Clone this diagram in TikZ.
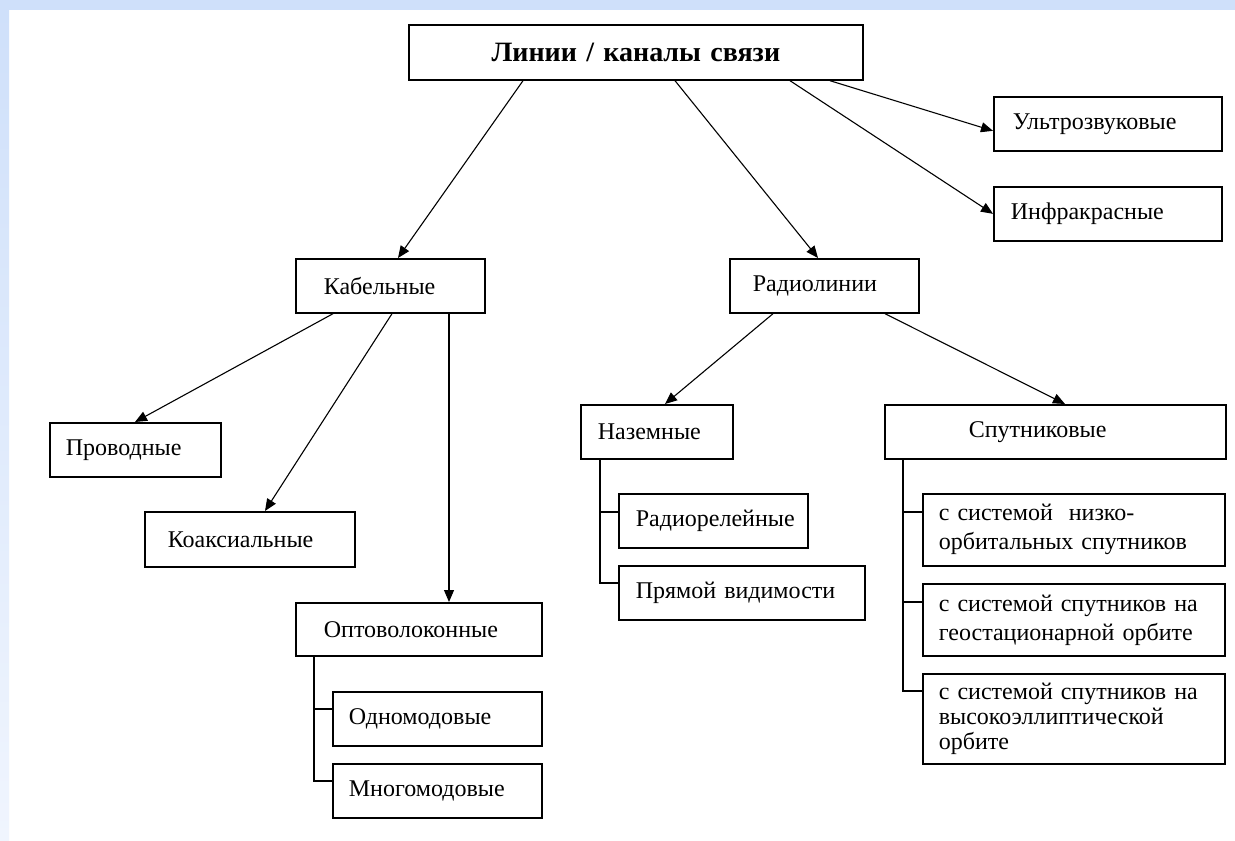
\documentclass[tikz,border=0pt]{standalone}
\usepackage{fontspec}
\setmainfont{Liberation Serif}
\usetikzlibrary{arrows.meta,calc}
\definecolor{bluebg}{RGB}{207,224,250}
\definecolor{bluebgb}{RGB}{240,245,254}
\begin{document}
\begin{tikzpicture}[x=0.5pt,y=-0.5pt,
  bx/.style={draw, line width=0.85pt, anchor=north west, inner ysep=0pt, align=left,
             font=\fontsize{12}{14.5}\selectfont},
  arr/.style={-{Triangle[length=6pt,width=5pt]}, line width=0.55pt},
  tree/.style={line width=0.75pt}]
\useasboundingbox (0,0) rectangle (1235,840);
\fill[white] (0,0) rectangle (1235,840);
\fill[bluebg] (0,0) rectangle (1235,10);
\shade[top color=bluebg, bottom color=bluebgb] (0,10) rectangle (9,840);

\node[bx, align=center, inner xsep=0pt, text width=227pt, minimum height=27.5pt,
      font=\fontsize{14}{16}\selectfont\bfseries] (top) at (408,24) {Линии / каналы связи};
\node[bx, inner xsep=9.5pt, text width=95pt, minimum height=27pt] (ultra) at (993,96) {Ультрозвуковые};
\node[bx, inner xsep=8.5pt, text width=97pt, minimum height=27pt] (infra) at (993,186) {Инфракрасные};
\node[bx, inner xsep=14pt, text width=66.5pt, minimum height=27pt] (kab) at (295,258) {Кабельные};
\node[bx, inner xsep=11.5pt, text width=71.5pt, minimum height=27pt] (radio) at (729,258) {Радиолинии};
\node[bx, inner xsep=8pt, text width=69.5pt, minimum height=27pt] (prov) at (49,422) {Проводные};
\node[bx, inner xsep=11.5pt, text width=82pt, minimum height=27.5pt] (koax) at (144,511) {Коаксиальные};
\node[bx, inner xsep=14pt, text width=95pt, minimum height=26.5pt] (opto) at (295,602) {Оптоволоконные};
\node[bx, inner xsep=8pt, text width=88.5pt, minimum height=27pt] (odno) at (332,691) {Одномодовые};
\node[bx, inner xsep=8pt, text width=88.5pt, minimum height=27pt] (mnogo) at (332,763) {Многомодовые};
\node[bx, inner xsep=8.5pt, text width=59pt, minimum height=27pt] (nazem) at (580,404) {Наземные};
\node[bx, inner xsep=8.5pt, text width=77.5pt, minimum height=27pt] (relay) at (618,493) {Радиорелейные};
\node[bx, inner xsep=8.5pt, text width=106pt, minimum height=27pt] (direct) at (618,565) {Прямой видимости};
\node[bx, inner xsep=42pt, text width=86.5pt, minimum height=27pt] (sput) at (884,404) {Спутниковые};
\node[bx, inner xsep=8pt, text width=135pt, minimum height=36pt] (s1) at (922,493) {с системой~~низко-\\орбитальных спутников};
\node[bx, inner xsep=8pt, text width=135pt, minimum height=36pt] (s2) at (922,583) {с системой спутников на\\геостационарной орбите};
\node[bx, inner xsep=8pt, text width=135pt, minimum height=45pt,
      font=\fontsize{12}{12.5}\selectfont] (s3) at (922,673) {с системой спутников на\\высокоэллиптической\\орбите};

\draw[arr] ($(top.south west)+(115,0)$) -- ($(kab.north west)+(103,0)$);
\draw[arr] ($(top.south west)+(267,0)$) -- ($(radio.north west)+(89,0)$);
\draw[arr] ($(top.south west)+(382,0)$) -- (infra.west);
\draw[arr] ($(top.south west)+(422,0)$) -- ($(ultra.west)+(0,7)$);
\draw[arr] ($(kab.south west)+(38,0)$) -- ($(prov.north west)+(86,0)$);
\draw[arr] ($(kab.south west)+(97,0)$) -- ($(koax.north west)+(121,0)$);
\draw[arr] ($(kab.south west)+(154,0)$) -- ($(opto.north west)+(154,0)$);
\draw[arr] ($(radio.south west)+(44,0)$) -- ($(nazem.north west)+(85,0)$);
\draw[arr] ($(radio.south west)+(156,0)$) -- ($(sput.north west)+(181,0)$);

\coordinate (ot) at ($(opto.south west)+(19,0)$);
\draw[tree] (ot) |- ($(mnogo.north west)+(0,18)$);
\draw[tree] ($(odno.north west)+(0,18)$) -- ++(-18,0);

\coordinate (nt) at ($(nazem.south west)+(20,0)$);
\draw[tree] (nt) |- ($(direct.north west)+(0,18)$);
\draw[tree] ($(relay.north west)+(0,19)$) -- ++(-18,0);

\coordinate (st) at ($(sput.south west)+(19,0)$);
\draw[tree] (st) |- ($(s3.north west)+(0,18)$);
\draw[tree] ($(s1.north west)+(0,19)$) -- ++(-19,0);
\draw[tree] ($(s2.north west)+(0,19)$) -- ++(-19,0);
\end{tikzpicture}
\end{document}
